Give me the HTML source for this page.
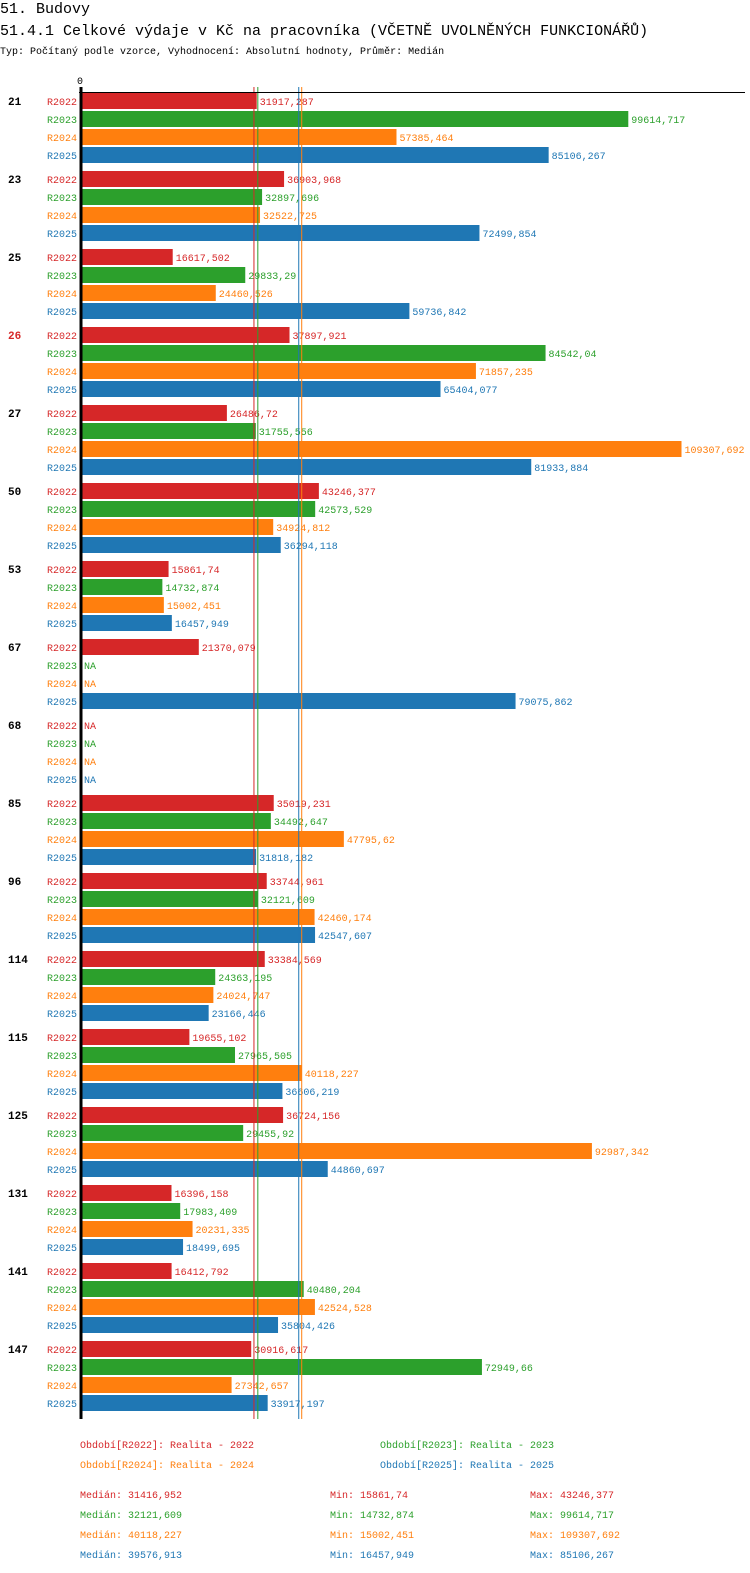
<!DOCTYPE html>
<html><head><meta charset="utf-8"><style>
body{margin:0;background:#fff;width:750px;height:1568px;overflow:hidden;font-family:"Liberation Mono",monospace}
svg text{font-family:"Liberation Mono",monospace}
</style></head><body>
<svg id="c" width="750" height="1568" xmlns="http://www.w3.org/2000/svg">
<text x="0" y="13" font-size="15">51. Budovy</text>
<text x="0" y="35" font-size="15">51.4.1 Celkové výdaje v Kč na pracovníka (VČETNĚ UVOLNĚNÝCH FUNKCIONÁŘŮ)</text>
<text x="0" y="54" font-size="10">Typ: Počítaný podle vzorce, Vyhodnocení: Absolutní hodnoty, Průměr: Medián</text>
<g id="plot"></g>
</svg>
<script>
const groups=["21","23","25","26","27","50","53","67","68","85","96","114","115","125","131","141","147"];
const seriesNames=["R2022","R2023","R2024","R2025"];
const r2022=[31917.287,36903.968,16617.502,37897.921,26486.72,43246.377,15861.74,21370.079,null,35019.231,33744.961,33384.569,19655.102,36724.156,16396.158,16412.792,30916.617];
const r2023=[99614.717,32897.696,29833.29,84542.04,31755.556,42573.529,14732.874,null,null,34492.647,32121.609,24363.195,27965.505,29455.92,17983.409,40480.204,72949.66];
const r2024=[57385.464,32522.725,24460.526,71857.235,109307.692,34924.812,15002.451,null,null,47795.62,42460.174,24024.747,40118.227,92987.342,20231.335,42524.528,27342.657];
const r2025=[85106.267,72499.854,59736.842,65404.077,81933.884,36294.118,16457.949,79075.862,null,31818.182,42547.607,23166.446,36606.219,44860.697,18499.695,35804.426,33917.197];
const medians=[31416.952,32121.609,40118.227,39576.913];
const mins=["15861,74","14732,874","15002,451","16457,949"];
const maxs=["43246,377","99614,717","109307,692","85106,267"];
const medLabels=["31416,952","32121,609","40118,227","39576,913"];
const periodLabels=["Realita - 2022","Realita - 2023","Realita - 2024","Realita - 2025"];
const colors=["#d62728","#2ca02c","#ff7f0e","#1f77b4"];
const all=[r2022,r2023,r2024,r2025];
const NS="http://www.w3.org/2000/svg";
const g=document.getElementById('plot');
const x0=81.5, xmax=109307.692, W=600;
const X=v=>x0+v/xmax*W;
const Y=(gi,si)=>101+gi*78+si*18;
function el(t,a,txt){const e=document.createElementNS(NS,t);for(const k in a)e.setAttribute(k,a[k]);if(txt!=null)e.textContent=txt;g.appendChild(e);return e;}
function fmt(v){return String(v).replace('.',',');}
groups.forEach((gn,gi)=>{
 const t=el('text',{x:8,y:Y(gi,0)+4,'font-size':11,'font-weight':'bold',fill:gn==="26"?"#d62728":"#000"},gn);
 
 
 all.forEach((s,si)=>{
  const y=Y(gi,si);
  const l=el('text',{x:77,y:y+4,'font-size':10,'text-anchor':'end',fill:colors[si]},seriesNames[si]);
  
  
  const v=s[gi];
  if(v==null){
   const n=el('text',{x:84,y:y+4,'font-size':10,fill:colors[si]},'NA');
   
   
  } else {
   const b=el('rect',{x:x0,y:y-8,width:X(v)-x0,height:16,fill:colors[si]});
   
   
   const vl=el('text',{x:X(v)+3,y:y+4,'font-size':10,fill:colors[si]},fmt(v));
   
   
  }
 });
});
medians.forEach((m,i)=>{
 const ln=el('line',{x1:X(m),x2:X(m),y1:87,y2:1419,stroke:colors[i],'stroke-width':1});
 
 
});
const ax=el('line',{x1:81,x2:81,y1:87,y2:1419,stroke:'#000','stroke-width':3});


const tp=el('line',{x1:79,x2:745,y1:92.5,y2:92.5,stroke:'#000','stroke-width':1});


const z=el('text',{x:80,y:84,'font-size':10,'text-anchor':'middle'},'0');


seriesNames.forEach((s,i)=>{
 const lx=i%2?380:80, ly=1448+Math.floor(i/2)*20;
 const t=el('text',{x:lx,y:ly,'font-size':10,fill:colors[i]},'Období['+s+']: '+periodLabels[i]);
 
 
 const yy=1498+i*20;
 const a=el('text',{x:80,y:yy,'font-size':10,fill:colors[i]},'Medián: '+medLabels[i]);
 
 
 const b=el('text',{x:330,y:yy,'font-size':10,fill:colors[i]},'Min: '+mins[i]);
 
 
 const c=el('text',{x:530,y:yy,'font-size':10,fill:colors[i]},'Max: '+maxs[i]);
 
 
});
</script>
</body></html>
